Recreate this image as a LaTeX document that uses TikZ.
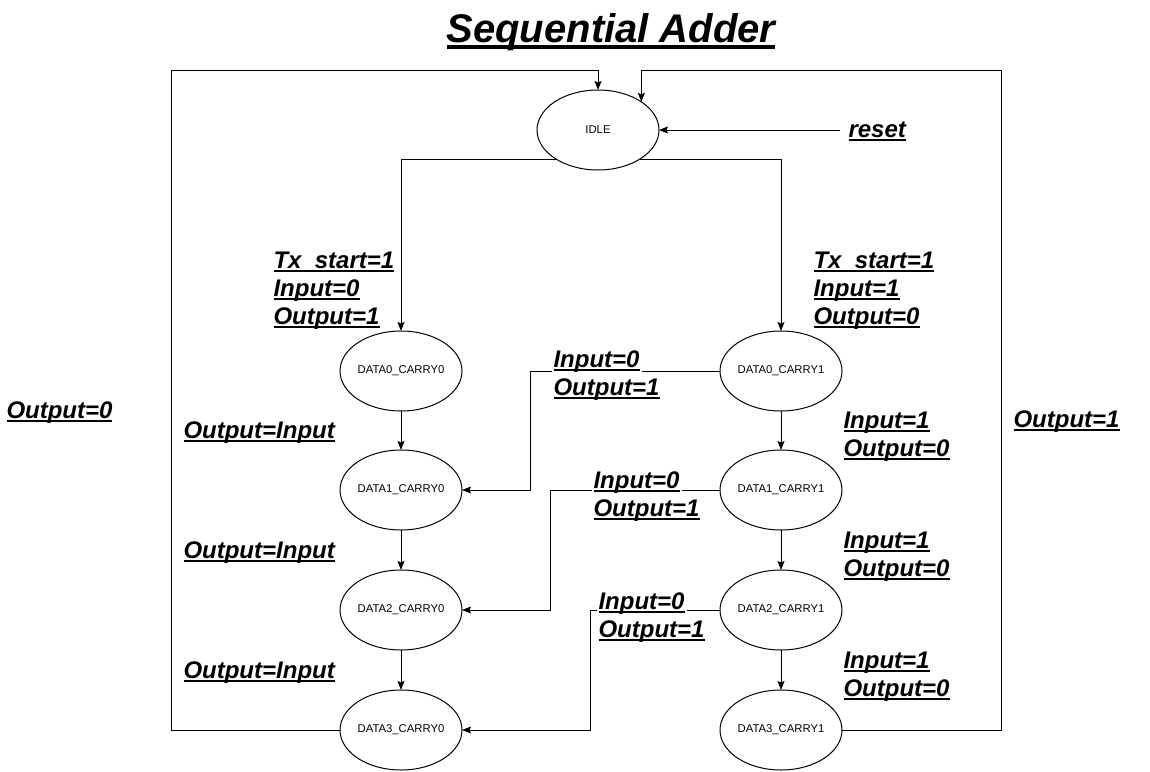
\documentclass[tikz,border=0pt]{standalone}
\usepackage{fontspec}
\setmainfont{Liberation Sans}
\usetikzlibrary{arrows.meta,shapes.geometric}
\newcommand\myul[1]{\setbox0=\hbox{#1}\rlap{\rule[-0.17em]{\wd0}{0.085em}}\box0}
\begin{document}
\begin{tikzpicture}[x=1pt,y=-1pt,line width=1pt,
  st/.style={draw,ellipse,minimum width=122pt,minimum height=80pt,inner xsep=-25pt,inner ysep=0pt,outer sep=0pt,font=\fontsize{11.3}{14}\selectfont},
  lbl/.style={fill=white,inner xsep=2pt,inner ysep=1pt,anchor=base west,font=\fontsize{24}{28}\selectfont\bfseries\itshape},
  arr/.style={-{Stealth[length=9pt,width=7pt,inset=1.5pt]}}]
\useasboundingbox (0,0) rectangle (1150,771);
% title
\node[font=\fontsize{40}{46}\selectfont\bfseries\itshape,anchor=base,inner sep=0pt] (title) at (611,42) {\myul{Sequential Adder}};
% states
\node[st] (idle) at (598,130) {IDLE};
\node[st] (d0c0) at (401,371) {DATA0\_CARRY0};
\node[st] (d1c0) at (401,490) {DATA1\_CARRY0};
\node[st] (d2c0) at (401,610) {DATA2\_CARRY0};
\node[st] (d3c0) at (401,730) {DATA3\_CARRY0};
\node[st] (d0c1) at (781,371) {DATA0\_CARRY1};
\node[st] (d1c1) at (781,490) {DATA1\_CARRY1};
\node[st] (d2c1) at (781,610) {DATA2\_CARRY1};
\node[st] (d3c1) at (781,730) {DATA3\_CARRY1};
\coordinate (tl) at (171,70);
\coordinate (tr) at (1001,70);
\coordinate (rs) at (840,130);
% connectors
\draw[arr] (rs) -- (idle.east);
\draw[arr] (idle.215) -| (d0c0.north);
\draw[arr] (idle.325) -| (d0c1.north);
\draw[arr] (d0c0.south) -- (d1c0.north);
\draw[arr] (d1c0.south) -- (d2c0.north);
\draw[arr] (d2c0.south) -- (d3c0.north);
\draw[arr] (d0c1.south) -- (d1c1.north);
\draw[arr] (d1c1.south) -- (d2c1.north);
\draw[arr] (d2c1.south) -- (d3c1.north);
\draw[arr] (d0c1.west) -| ([xshift=68pt]d1c0.east) -- (d1c0.east);
\draw[arr] (d1c1.west) -| ([xshift=88pt]d2c0.east) -- (d2c0.east);
\draw[arr] (d2c1.west) -| ([xshift=128pt]d3c0.east) -- (d3c0.east);
\draw[arr] (d3c0.west) -| (tl) -| (idle.north);
\draw[arr] (d3c1.east) -| (tr) -| (idle.33);
% labels
\node[lbl] (lreset) at (846,137) {\myul{reset}};
\node[lbl] (lo0) at (4,418) {\myul{Output=0}};
\node[lbl] (lo1) at (1011,427) {\myul{Output=1}};
\node[lbl] (ltx0a) at (271,268) {\myul{Tx\_start=1}};
\node[lbl] (ltx0b) at (271,296) {\myul{Input=0}};
\node[lbl] (ltx0c) at (271,324) {\myul{Output=1}};
\node[lbl] (ltx1a) at (811,268) {\myul{Tx\_start=1}};
\node[lbl] (ltx1b) at (811,296) {\myul{Input=1}};
\node[lbl] (ltx1c) at (811,324) {\myul{Output=0}};
\node[lbl] (loi1) at (181,438) {\myul{Output=Input}};
\node[lbl] (loi2) at (181,558) {\myul{Output=Input}};
\node[lbl] (loi3) at (181,678) {\myul{Output=Input}};
\node[lbl] (lr1a) at (841,428) {\myul{Input=1}};
\node[lbl] (lr1b) at (841,456) {\myul{Output=0}};
\node[lbl] (lr2a) at (841,548) {\myul{Input=1}};
\node[lbl] (lr2b) at (841,576) {\myul{Output=0}};
\node[lbl] (lr3a) at (841,668) {\myul{Input=1}};
\node[lbl] (lr3b) at (841,696) {\myul{Output=0}};
\node[lbl] (lc1a) at (551,367) {\myul{Input=0}};
\node[lbl] (lc1b) at (551,395) {\myul{Output=1}};
\node[lbl] (lc2a) at (591,488) {\myul{Input=0}};
\node[lbl] (lc2b) at (591,516) {\myul{Output=1}};
\node[lbl] (lc3a) at (596,609) {\myul{Input=0}};
\node[lbl] (lc3b) at (596,637) {\myul{Output=1}};
\end{tikzpicture}
\end{document}
